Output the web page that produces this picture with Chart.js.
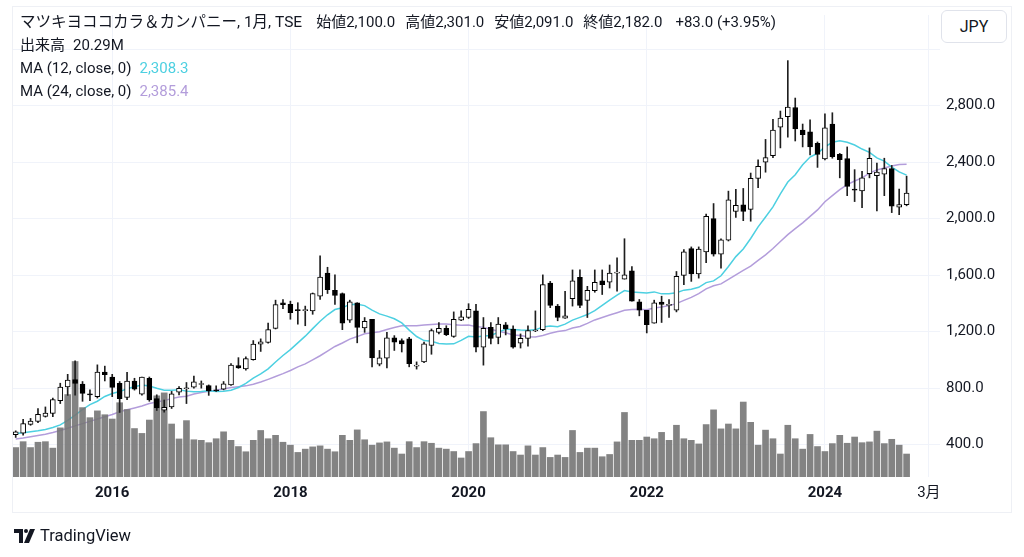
<!DOCTYPE html>
<html>
<head>
<meta charset="utf-8">
<script src="https://cdn.jsdelivr.net/npm/chart.js@4.4.0/dist/chart.umd.min.js"></script>
<style>
  html, body { margin: 0; padding: 0; background: #fff; }
  body { width: 1024px; height: 557px; position: relative; overflow: hidden;
         font-family: Roboto, "Noto Sans CJK JP", sans-serif; color: #131722; }
  #chart { position: absolute; left: 0; top: 0; }
  .frame { position: absolute; left: 12px; top: 6px; width: 998px; height: 505px;
           border: 1px solid #eef0f5; pointer-events: none; }
  .row { position: absolute; left: 20px; font-size: 15px; white-space: nowrap; line-height: 18px; }
  .row span { margin-right: 8px; }
  .row .title { font-size: 15.5px; margin-right: 14px; }
  .row .ohlc { margin-right: 10px; }
  .jpy { position: absolute; left: 941px; top: 10px; width: 64px; height: 31px; border: 1px solid #e0e3eb;
         border-radius: 6px; font-size: 16px; line-height: 31px; text-align: center; background: #fff; }
  .logo { position: absolute; left: 14px; top: 526px; font-size: 16.5px; display: flex; align-items: center; }
</style>
</head>
<body>
<canvas id="chart" width="1024" height="557"></canvas>
<div class="frame"></div>
<div class="row" style="top:13px"><span class="title">マツキヨココカラ＆カンパニー, 1月, TSE</span><span class="ohlc">始値2,100.0</span><span class="ohlc">高値2,301.0</span><span class="ohlc">安値2,091.0</span><span class="ohlc">終値2,182.0</span><span style="margin-left:3px">+83.0 (+3.95%)</span></div>
<div class="row" style="top:36px"><span>出来高</span><span>20.29M</span></div>
<div class="row" style="top:59px"><span>MA (12, close, 0)</span><span style="color:#4dd0e1">2,308.3</span></div>
<div class="row" style="top:82px"><span>MA (24, close, 0)</span><span style="color:#b39ddb">2,385.4</span></div>
<div class="jpy">JPY</div>
<div class="logo">
  <svg width="22" height="14" viewBox="0 0 22 14"><path d="M0 0h9v14H5V4H0z" fill="#131722"/><circle cx="12" cy="2" r="2" fill="#131722"/><path d="M16 0h5l-6 14h-5z" fill="#131722"/></svg>
  <span style="margin-left:4px">TradingView</span>
</div>
<script>
// 月足 2014-12 〜 2024-12
const opens = [470,481,544,565,600,621,712,809,860,828, 758,740,914,879,835,735,851,758,870,726,
  644,667,772,796,807,826,819,784,793,823, 960,937,1002,1112,1123,1223,1405,1393,1351,1349,
  1347,1451,1614,1493,1470,1281,1405,1226,1288,970, 1012,1156,1137,1149,956,986,1102,1195,1223,1167,
  1281,1300,1347,1091,1230,1160,1249,1219,1119,1153, 1205,1214,1544,1381,1295,1433,1584,1421,1491,1560,
  1551,1614,1572,1630,1412,1351,1260,1409,1386,1353, 1598,1788,1609,1765,2000,1749,1847,2051,2098,2066,
  2285,2400,2446,2647,2722,2787,2628,2614,2534,2423, 2670,2455,2425,2209,2197,2319,2305,2315,2354,2082,2100];
const highs = [498,579,586,656,667,730,835,898,993,847, 788,965,956,898,847,912,870,879,879,753,
  716,777,812,840,886,851,823,816,847,974, 1016,1021,1137,1149,1260,1423,1428,1416,1405,1381,
  1474,1737,1656,1602,1474,1423,1405,1300,1288,1067, 1195,1172,1149,1160,986,1126,1219,1265,1242,1340,
  1347,1398,1393,1300,1265,1300,1265,1242,1184,1242, 1347,1602,1556,1393,1486,1637,1637,1521,1637,1637,
  1672,1723,1858,1660,1428,1351,1423,1451,1428,1626, 1781,1800,1800,2032,2107,1858,2195,2207,2214,2323,
  2416,2561,2704,2762,3119,2854,2670,2700,2543,2743, 2750,2462,2508,2347,2335,2501,2393,2428,2377,2209,2301];
const lows = [451,467,537,556,595,598,691,749,751,707, 712,730,851,740,628,719,786,751,707,642,
  630,656,753,691,800,800,749,777,788,819, 940,928,998,1060,1119,1219,1363,1288,1253,1242,
  1323,1428,1470,1393,1214,1265,1121,1195,951,958, 944,1067,1056,951,935,981,1040,1184,1172,1160,
  1277,1293,1056,963,1114,1114,1177,1084,1084,1098, 1200,1207,1370,1277,1293,1381,1370,1300,1479,1463,
  1509,1486,1572,1416,1312,1191,1260,1265,1300,1340, 1533,1556,1579,1688,1735,1649,1842,2009,1986,1982,
  2220,2329,2432,2501,2577,2550,2508,2451,2363,2416, 2428,2289,2163,2121,2077,2289,2054,2163,2043,2029,2091];
const closes = [491,549,567,614,623,719,807,858,833,763, 752,914,895,805,726,851,793,879,716,660,
  665,760,798,800,844,829,781,781,830,963, 944,1009,1112,1128,1214,1391,1391,1335,1349,1351,
  1470,1586,1498,1456,1260,1412,1230,1274,1014,1014, 1156,1126,1114,974,958,1114,1207,1223,1179,1288,
  1305,1358,1091,1223,1153,1253,1219,1091,1153,1207, 1212,1533,1386,1300,1312,1560,1386,1493,1549,1533,
  1614,1619,1602,1416,1353,1249,1405,1393,1386,1591, 1765,1609,1784,2016,1749,1851,2133,2095,2051,2285,
  2370,2432,2628,2713,2790,2635,2594,2508,2455,2644, 2439,2418,2229,2202,2289,2428,2329,2354,2089,2100,2182];
// 出来高 (百万株)
const volumes = [26.0,31.2,26.0,30.7,31.2,25.5,43.4,72.8,102.0,61.3, 52.4,58.4,55.0,51.2,65.6,59.6,42.8,38.5,50.3,71.7,
  74.3,46.8,33.6,49.8,32.9,32.4,30.3,33.8,39.9,32.4, 26.9,22.3,32.4,41.1,33.8,36.8,30.7,28.1,21.7,24.6,
  26.6,27.5,24.6,22.3,36.8,32.4,41.6,32.9,28.1,30.1, 31.0,25.5,20.3,31.2,26.0,31.2,29.8,25.5,24.6,22.5,
  16.8,22.5,29.5,57.8,34.7,28.4,28.4,22.5,19.4,27.5, 19.4,26.0,17.3,19.4,17.3,41.1,21.7,25.5,25.5,17.9,
  19.9,31.0,57.0,32.4,32.4,35.3,33.8,39.4,32.4,45.7, 33.8,32.4,29.2,46.3,59.3,42.5,46.8,42.5,66.2,48.3,
  28.1,41.4,33.8,20.3,45.7,33.8,24.6,37.6,26.9,22.5, 29.5,36.8,29.8,35.3,30.3,31.0,40.5,29.5,33.3,28.1,20.29];
// 表示開始前のデータを含む MA の先頭部分 (チャートから読み取り)
const ma12Lead = [479,484,491,498,507,521,540,572,609,649,684];
const ma24Lead = [440,447,456,465,474,486,500,516,533,549,565,581,598,614,633,647,660,674,691,702,712,726,737];

const tickIndex = [13, 37, 61, 85, 109, 123];
const tickText = ['2016', '2018', '2020', '2022', '2024', '3月'];
const priceTicks = [400, 800, 1200, 1600, 2000, 2400, 2800, 3200];

// 2014-12 から 2025-04 までの月ラベル
const months = [];
for (let i = 0; i < 125; i++) {
  const m = 11 + i;
  months.push((2014 + Math.floor(m / 12)) + '-' + String(m % 12 + 1).padStart(2, '0'));
}

function movingAvg(n, lead) {
  return closes.map((c, i) => {
    if (i < lead.length) return lead[i];
    let s = 0;
    for (let k = i - n + 1; k <= i; k++) s += closes[k];
    return s / n;
  });
}

const up = closes.map((c, i) => c >= opens[i]);
const family = 'Roboto, "Noto Sans CJK JP", sans-serif';

new Chart(document.getElementById('chart'), {
  data: {
    labels: months,
    datasets: [
      {
        type: 'bar', label: 'body', order: 0, grouped: false, yAxisID: 'y',
        data: opens.map((o, i) => [o, closes[i]]),
        backgroundColor: up.map(u => u ? '#ffffff' : '#000000'),
        borderColor: '#000000', borderWidth: 1, borderSkipped: false,
        barThickness: 5, minBarLength: 1
      },
      {
        type: 'bar', label: 'wick', order: 1, grouped: false, yAxisID: 'y',
        data: lows.map((l, i) => [l, highs[i]]),
        backgroundColor: '#1e1e1e', barThickness: 1
      },
      {
        type: 'bar', label: '出来高', order: 2, grouped: false, yAxisID: 'y1',
        data: volumes, backgroundColor: 'rgba(118,118,118,0.9)', barThickness: 6
      },
      {
        type: 'line', label: 'MA 12', order: 3, yAxisID: 'y',
        data: movingAvg(12, ma12Lead), borderColor: '#4dd0e1', borderWidth: 1.5,
        pointRadius: 0, tension: 0
      },
      {
        type: 'line', label: 'MA 24', order: 4, yAxisID: 'y',
        data: movingAvg(24, ma24Lead), borderColor: '#b39ddb', borderWidth: 1.5,
        pointRadius: 0, tension: 0
      }
    ]
  },
  options: {
    responsive: false,
    animation: false,
    devicePixelRatio: 1,
    layout: { padding: { left: 12, right: 13, top: 6, bottom: 45 } },
    plugins: { legend: { display: false }, tooltip: { enabled: false } },
    scales: {
      x: {
        type: 'category', offset: true,
        grid: { color: '#f0f3fa', offset: false, drawTicks: false },
        border: { display: false },
        afterBuildTicks: axis => { axis.ticks = tickIndex.map(v => ({ value: v })); },
        afterFit: axis => { axis.height = 35; },
        ticks: {
          autoSkip: false, maxRotation: 0, padding: 7, color: '#131722',
          callback: v => tickText[tickIndex.indexOf(v)],
          font: c => ({ family, size: 15, weight: c.tick && c.tick.value === 123 ? 'normal' : 'bold' })
        }
      },
      y: {
        position: 'right', min: 171, max: 3442,
        grid: { color: '#f0f3fa', drawTicks: false },
        border: { display: false },
        afterBuildTicks: axis => { axis.ticks = priceTicks.map(v => ({ value: v })); },
        afterFit: axis => { axis.width = 71; },
        ticks: {
          padding: 6, color: '#131722', font: { family, size: 15 },
          callback: v => v === 3200 ? '' : v.toLocaleString('en-US') + '.0'
        }
      },
      y1: { display: false, min: 0, max: 408 }
    }
  }
});
</script>
</body>
</html>
